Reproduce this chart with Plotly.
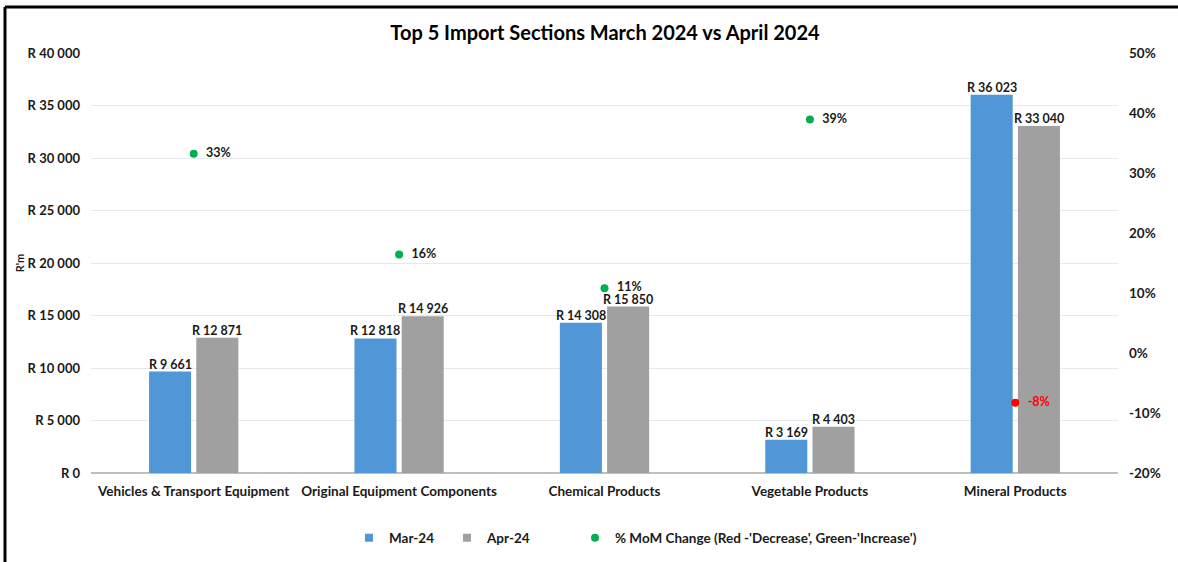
import plotly.graph_objects as go

categories = ["Vehicles & Transport Equipment", "Original Equipment Components",
              "Chemical Products", "Vegetable Products", "Mineral Products"]
mar_24 = [9661, 12818, 14308, 3169, 36023]
apr_24 = [12871, 14926, 15850, 4403, 33040]
mom_pct = [33.2, 16.4, 10.8, 38.9, -8.3]
y_ticks = [0, 5000, 10000, 15000, 20000, 25000, 30000, 35000, 40000]
y_tick_labels = ["R 0", "R 5 000", "R 10 000", "R 15 000", "R 20 000",
                 "R 25 000", "R 30 000", "R 35 000", "R 40 000"]
y2_ticks = [-20, -10, 0, 10, 20, 30, 40, 50]
y2_tick_labels = ["-20%", "-10%", "0%", "10%", "20%", "30%", "40%", "50%"]

BLUE = "#5097d8"
GREY = "#a0a0a0"


def rand(v):
    return "<b>R " + f"{v:,}".replace(",", " ") + "</b>"


FONT = "Lato"
W, H = 1178, 562
L, R, T, B = 91, 60, 53, 89
pw, ph = W - L - R, H - T - B
TXT = "#1a1a1a"
BARGAP, GROUPGAP = 0.54, 0.11
cat_px = pw / len(categories)
slot_px = (1 - BARGAP) * cat_px / 2

fig = go.Figure()
fig.add_trace(go.Bar(
    x=categories, y=mar_24, name="Mar-24", showlegend=False,
    marker=dict(color=BLUE, line=dict(width=0)),
))
fig.add_trace(go.Bar(
    x=categories, y=apr_24, name="Apr-24", showlegend=False,
    marker=dict(color=GREY, line=dict(width=0)),
))
# value labels above bars
for vals, sign in ((mar_24, -1), (apr_24, 1)):
    for c, v in zip(categories, vals):
        fig.add_annotation(x=c, y=v, text=rand(v), showarrow=False,
                           xshift=sign * slot_px / 2, yanchor="bottom", yshift=-2,
                           font=dict(family=FONT, size=12.5, color=TXT))

dot_colors = ["#00b050" if v >= 0 else "#ff0000" for v in mom_pct]
txt_colors = [TXT if v >= 0 else "#ff0000" for v in mom_pct]
fig.add_trace(go.Scatter(
    x=categories, y=mom_pct, yaxis="y2", mode="markers+text",
    name="% MoM Change (Red -'Decrease', Green-'Increase')", legend="legend3",
    marker=dict(color=dot_colors, size=8),
    texttemplate="  <b>%{y:.0f}%</b>", textposition="middle right",
    textfont=dict(family=FONT, size=12.5, color=txt_colors),
    cliponaxis=False,
))
# legend entries for the bar series (small square swatches)
fig.add_trace(go.Scatter(x=[None], y=[None], mode="markers", name="Mar-24",
                         marker=dict(symbol="square", size=8, color=BLUE), legend="legend"))
fig.add_trace(go.Scatter(x=[None], y=[None], mode="markers", name="Apr-24",
                         marker=dict(symbol="square", size=8, color=GREY), legend="legend2"))

# border lines (top and left)
x_left = (5 - L) / pw
y_top = (H - B - 7) / ph
y_bot = -(B) / ph
fig.add_shape(type="line", xref="paper", yref="paper", x0=x_left, x1=(W - L) / pw,
              y0=y_top, y1=y_top, line=dict(color="black", width=3))
fig.add_shape(type="line", xref="paper", yref="paper", x0=x_left, x1=x_left,
              y0=y_top, y1=y_bot, line=dict(color="black", width=3))

leg_font = dict(family=FONT, size=13.5, weight="bold", color=TXT)
leg_y = -(538 - (H - B)) / ph


def leg(px):
    return dict(orientation="h", x=(px - L) / pw, xanchor="left", y=leg_y,
                yanchor="middle", font=leg_font, itemwidth=30,
                bgcolor="rgba(0,0,0,0)")


fig.update_layout(
    width=W, height=H,
    margin=dict(l=L, r=R, t=T, b=B, autoexpand=False),
    paper_bgcolor="white", plot_bgcolor="white",
    font=dict(family=FONT, size=12, color=TXT),
    title=dict(text="<b>Top 5 Import Sections March 2024 vs April 2024</b>",
               x=605 / W, xanchor="center", y=1 - 33 / H, yanchor="middle",
               font=dict(family=FONT, size=20, color="black")),
    barmode="group", bargap=BARGAP, bargroupgap=GROUPGAP,
    xaxis=dict(showgrid=False, showline=False, ticks="", ticklabelstandoff=8,
               tickfont=dict(family=FONT, size=13.5, weight="bold", color=TXT)),
    yaxis=dict(range=[0, 40000], tickvals=y_ticks, ticktext=y_tick_labels,
               showgrid=True, gridcolor="#e6eaf0", gridwidth=1,
               zeroline=True, zerolinecolor="#bfbfbf", zerolinewidth=1.5,
               ticklabelstandoff=10,
               tickfont=dict(family=FONT, size=13, weight="bold", color=TXT),
               title=dict(text="<b>R'm</b>", font=dict(family=FONT, size=11), standoff=0)),
    yaxis2=dict(range=[-20, 50], tickvals=y2_ticks, ticktext=y2_tick_labels,
                overlaying="y", side="right", showgrid=False, zeroline=False,
                ticklabelstandoff=10,
                tickfont=dict(family=FONT, size=13.5, weight="bold", color=TXT)),
    legend=leg(349),
    legend2=leg(447),
    legend3=leg(575),
    showlegend=True,
)
fig.write_html("out.html", config={"displayModeBar": False},
               post_script="document.body.style.margin='0px';")
